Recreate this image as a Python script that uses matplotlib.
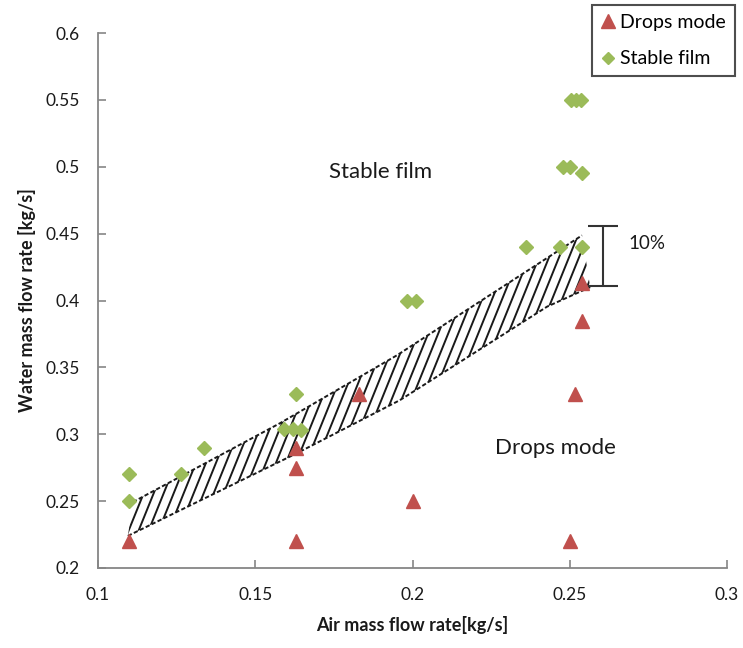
import numpy as np
import matplotlib
matplotlib.use("Agg")
import matplotlib.pyplot as plt
from matplotlib.patches import Polygon

plt.rcParams['font.family'] = ['Lato', 'DejaVu Sans']

# ---- data ----
drops_x = [0.110, 0.163, 0.163, 0.163, 0.183, 0.200, 0.250, 0.2517, 0.254, 0.254]
drops_y = [0.220, 0.220, 0.275, 0.290, 0.330, 0.250, 0.220, 0.330, 0.385, 0.413]

film_x = [0.110, 0.110, 0.1264, 0.1337, 0.159, 0.162, 0.1645, 0.163,
          0.1984, 0.201, 0.236, 0.2468, 0.254,
          0.2477, 0.250, 0.254, 0.2503, 0.252, 0.2535]
film_y = [0.270, 0.250, 0.270, 0.290, 0.304, 0.304, 0.303, 0.330,
          0.400, 0.400, 0.440, 0.440, 0.440,
          0.500, 0.500, 0.495, 0.550, 0.550, 0.550]

band_upper_x = [0.1111, 0.1579, 0.1951, 0.2539]
band_upper_y = [0.2493, 0.3083, 0.3591, 0.4487]
band_lower_x = [0.1095, 0.1633, 0.1960, 0.2428, 0.2565]
band_lower_y = [0.2240, 0.2859, 0.3255, 0.3954, 0.4100]

bracket_x = 0.2607
bracket_top = 0.4555
bracket_bottom = 0.4110

xticks = [0.1, 0.15, 0.2, 0.25, 0.3]
yticks = [0.2, 0.25, 0.3, 0.35, 0.4, 0.45, 0.5, 0.55, 0.6]

red = '#C0504D'
green = '#9BBB59'
gray = '#868686'
ink = '#1a1a1a'

fig = plt.figure(figsize=(7.43, 6.48), dpi=100)
ax = fig.add_axes([98/743, 1-568/648, (727-98)/743, (568-33)/648])

# hatched band
poly_pts = list(zip(band_upper_x, band_upper_y)) + list(zip(band_lower_x[::-1], band_lower_y[::-1]))
poly = Polygon(poly_pts, closed=True, facecolor='none', edgecolor='none', transform=ax.transData)
ax.add_patch(poly)
ang = np.deg2rad(68)
w_px, h_px = 629.0, 535.0
dx = (h_px / np.tan(ang)) / w_px
step = 10.0 / w_px
for u in np.arange(-0.5, 1.5, step):
    ln, = ax.plot([u, u + dx], [0, 1], transform=ax.transAxes, color='#1a1a1a', lw=1.4, zorder=2)
    ln.set_clip_path(poly)

ax.plot(band_upper_x, band_upper_y, color='#1a1a1a', lw=1.4, ls=(0, (2.2, 1.2)), zorder=2)
ax.plot(band_lower_x, band_lower_y, color='#1a1a1a', lw=1.4, ls=(0, (2.2, 1.2)), zorder=2)

# points
ax.plot(drops_x, drops_y, ls='none', marker='^', ms=10.5, color=red, mec=red, label='Drops mode', zorder=3)
ax.plot(film_x, film_y, ls='none', marker='D', ms=7, color=green, mec=green, label='Stable film', zorder=3)

# 10% bracket
ax.errorbar([bracket_x], [(bracket_top + bracket_bottom) / 2], yerr=[(bracket_top - bracket_bottom) / 2],
            fmt='none', ecolor='#333333', elinewidth=1.5, capsize=11, capthick=1.5, zorder=3)
ax.text(0.2687, 0.4425, '10%', fontsize=13.5, ha='left', va='center', color=ink)

ax.text(0.19, 0.496, 'Stable film', fontsize=16, ha='center', va='center', color=ink)
ax.text(0.2455, 0.290, 'Drops mode', fontsize=16, ha='center', va='center', color=ink)

ax.set_xlim(0.1, 0.3)
ax.set_ylim(0.2, 0.6)
ax.set_xticks(xticks)
ax.set_xticklabels([f'{t:g}' for t in xticks])
ax.set_yticks(yticks)
ax.set_yticklabels([f'{t:g}' for t in yticks])
for s in ['top', 'right']:
    ax.spines[s].set_visible(False)
for s in ['left', 'bottom']:
    ax.spines[s].set_color(gray)
    ax.spines[s].set_linewidth(1.3)
ax.tick_params(axis='both', direction='in', length=6, width=1.2, color=gray,
               labelsize=12.5, labelcolor=ink)
ax.tick_params(axis='y', pad=13)
ax.tick_params(axis='x', pad=14)

ax.set_xlabel('Air mass flow rate[kg/s]', fontsize=13, fontweight='bold', labelpad=9, color=ink)
ax.set_ylabel('Water mass flow rate [kg/s]', fontsize=13, fontweight='bold', labelpad=7, color=ink)

leg = fig.legend(loc='upper right', bbox_to_anchor=(0.989, 0.992), fontsize=14,
                 frameon=True, fancybox=False, edgecolor='#222222', labelspacing=1.0,
                 handlelength=0.7, handletextpad=0.3, borderpad=0.45, borderaxespad=0,
                 markerscale=0.9)
leg.get_frame().set_linewidth(1.5)

fig.savefig('out.png', dpi=100)
